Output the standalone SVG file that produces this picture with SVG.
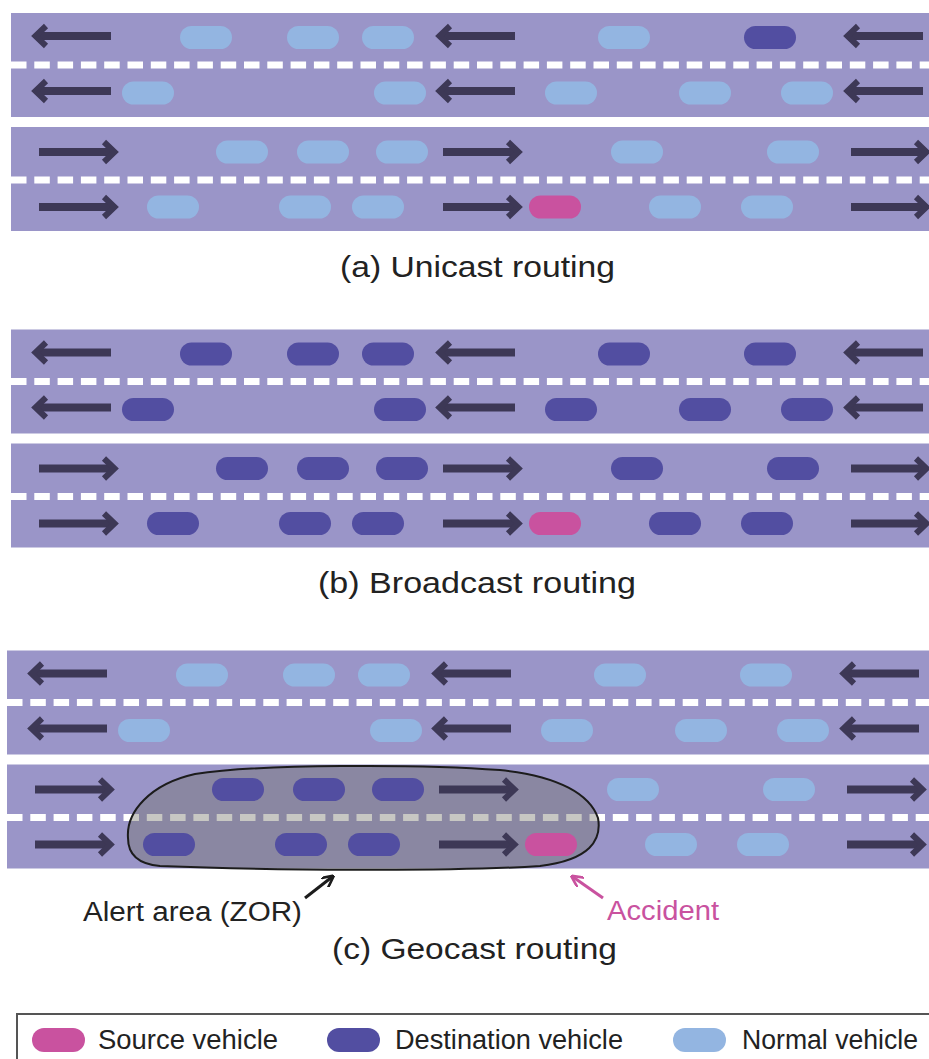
<svg xmlns="http://www.w3.org/2000/svg" xmlns:xlink="http://www.w3.org/1999/xlink" width="929" height="1059" viewBox="0 0 929 1059">
  <style>
    .road { fill: #9a95c8; }
    .dash { stroke: #ffffff; stroke-width: 7; stroke-dasharray: 15.5 7.8; fill: none; }
    .v-n { fill: #93b5e1; }
    .v-d { fill: #524ea1; }
    .v-s { fill: #c9529f; }
    .shaft { stroke: #3d3856; stroke-width: 8; fill: none; }
    .head { stroke: #3d3856; stroke-width: 6; fill: none; stroke-linejoin: miter; }
    .cap { font-family: "Liberation Sans", Arial, sans-serif; font-size: 29px; fill: #222222; }
    .lbl { font-family: "Liberation Sans", Arial, sans-serif; font-size: 27px; fill: #222222; }
    .zor { fill: rgb(115,115,105); fill-opacity: 0.4; stroke: #1c1c1c; stroke-width: 2; }
    .ptr { stroke-width: 3; fill: none; }
  </style>
  <defs>
    <!-- lane direction arrows, tip at origin -->
    <g id="al">
      <path class="shaft" d="M78,0 H5"/>
      <path class="head" d="M13,-10 L2.5,0 L13,10"/>
    </g>
    <g id="ar">
      <path class="shaft" d="M-78,0 H-5"/>
      <path class="head" d="M-13,-10 L-2.5,0 L-13,10"/>
    </g>
    <rect id="car" width="52" height="23" rx="11.5"/>
    <marker id="mk-k" viewBox="0 0 10 10" refX="8" refY="5" markerWidth="4" markerHeight="4" orient="auto">
      <path d="M0,0 L10,5 L0,10" fill="none" stroke="#1c1c1c" stroke-width="2.2"/>
    </marker>
    <marker id="mk-p" viewBox="0 0 10 10" refX="8" refY="5" markerWidth="4" markerHeight="4" orient="auto">
      <path d="M0,0 L10,5 L0,10" fill="none" stroke="#c9529f" stroke-width="2.2"/>
    </marker>
  </defs>

  <!-- (a) unicast -->
  <g id="panel-a">
    <rect class="road" x="11" y="13" width="930" height="104"/>
    <rect class="road" x="11" y="127" width="930" height="104"/>
    <line class="dash" x1="11" y1="65" x2="929" y2="65"/>
    <line class="dash" x1="11" y1="180" x2="929" y2="180"/>
    <g id="a-arrows">
      <use href="#al" x="33" y="36"/><use href="#al" x="437" y="36"/><use href="#al" x="845" y="36"/>
      <use href="#al" x="33" y="91"/><use href="#al" x="437" y="91"/><use href="#al" x="845" y="91"/>
      <use href="#ar" x="117" y="152"/><use href="#ar" x="521" y="152"/><use href="#ar" x="929" y="152"/>
      <use href="#ar" x="117" y="207"/><use href="#ar" x="521" y="207"/><use href="#ar" x="929" y="207"/>
    </g>
    <g id="a-vehicles">
      <use href="#car" class="v-n" x="180" y="26"/><use href="#car" class="v-n" x="287" y="26"/><use href="#car" class="v-n" x="362" y="26"/><use href="#car" class="v-n" x="598" y="26"/><use href="#car" class="v-d" x="744" y="26"/>
      <use href="#car" class="v-n" x="122" y="81.5"/><use href="#car" class="v-n" x="374" y="81.5"/><use href="#car" class="v-n" x="545" y="81.5"/><use href="#car" class="v-n" x="679" y="81.5"/><use href="#car" class="v-n" x="781" y="81.5"/>
      <use href="#car" class="v-n" x="216" y="140.5"/><use href="#car" class="v-n" x="297" y="140.5"/><use href="#car" class="v-n" x="376" y="140.5"/><use href="#car" class="v-n" x="611" y="140.5"/><use href="#car" class="v-n" x="767" y="140.5"/>
      <use href="#car" class="v-n" x="147" y="195.5"/><use href="#car" class="v-n" x="279" y="195.5"/><use href="#car" class="v-n" x="352" y="195.5"/><use href="#car" class="v-s" x="529" y="195.5"/><use href="#car" class="v-n" x="649" y="195.5"/><use href="#car" class="v-n" x="741" y="195.5"/>
    </g>
  </g>
  <text class="cap" x="340" y="277" textLength="275" lengthAdjust="spacingAndGlyphs">(a) Unicast routing</text>

  <!-- (b) broadcast -->
  <g id="panel-b" transform="translate(0,316.5)">
    <rect class="road" x="11" y="13" width="930" height="104"/>
    <rect class="road" x="11" y="127" width="930" height="104"/>
    <line class="dash" x1="11" y1="65" x2="929" y2="65"/>
    <line class="dash" x1="11" y1="180" x2="929" y2="180"/>
    <g id="b-arrows">
      <use href="#al" x="33" y="36"/><use href="#al" x="437" y="36"/><use href="#al" x="845" y="36"/>
      <use href="#al" x="33" y="91"/><use href="#al" x="437" y="91"/><use href="#al" x="845" y="91"/>
      <use href="#ar" x="117" y="152"/><use href="#ar" x="521" y="152"/><use href="#ar" x="929" y="152"/>
      <use href="#ar" x="117" y="207"/><use href="#ar" x="521" y="207"/><use href="#ar" x="929" y="207"/>
    </g>
    <g id="b-vehicles">
      <use href="#car" class="v-d" x="180" y="26"/><use href="#car" class="v-d" x="287" y="26"/><use href="#car" class="v-d" x="362" y="26"/><use href="#car" class="v-d" x="598" y="26"/><use href="#car" class="v-d" x="744" y="26"/>
      <use href="#car" class="v-d" x="122" y="81.5"/><use href="#car" class="v-d" x="374" y="81.5"/><use href="#car" class="v-d" x="545" y="81.5"/><use href="#car" class="v-d" x="679" y="81.5"/><use href="#car" class="v-d" x="781" y="81.5"/>
      <use href="#car" class="v-d" x="216" y="140.5"/><use href="#car" class="v-d" x="297" y="140.5"/><use href="#car" class="v-d" x="376" y="140.5"/><use href="#car" class="v-d" x="611" y="140.5"/><use href="#car" class="v-d" x="767" y="140.5"/>
      <use href="#car" class="v-d" x="147" y="195.5"/><use href="#car" class="v-d" x="279" y="195.5"/><use href="#car" class="v-d" x="352" y="195.5"/><use href="#car" class="v-s" x="529" y="195.5"/><use href="#car" class="v-d" x="649" y="195.5"/><use href="#car" class="v-d" x="741" y="195.5"/>
    </g>
  </g>
  <text class="cap" x="318" y="593" textLength="318" lengthAdjust="spacingAndGlyphs">(b) Broadcast routing</text>

  <!-- (c) geocast -->
  <g id="panel-c" transform="translate(-4,637.5)">
    <rect class="road" x="11" y="13" width="930" height="104"/>
    <rect class="road" x="11" y="127" width="930" height="104"/>
    <line class="dash" x1="11" y1="65" x2="933" y2="65"/>
    <line class="dash" x1="11" y1="180" x2="933" y2="180"/>
    <!-- zone of relevance -->
    <path id="zor" class="zor" d="M132,200.5 C130,174.5 154,146.5 199,136.5 C264,126.5 424,126.5 504,132.5 C564,138.5 594,157.5 602,180.5 C606,202.5 594,222.5 544,228.5 C454,234.5 264,232.5 164,228.5 C140,226.5 132,214.5 132,200.5 Z"/>
    <g id="c-arrows">
      <use href="#al" x="33" y="36"/><use href="#al" x="437" y="36"/><use href="#al" x="845" y="36"/>
      <use href="#al" x="33" y="91"/><use href="#al" x="437" y="91"/><use href="#al" x="845" y="91"/>
      <use href="#ar" x="117" y="152"/><use href="#ar" x="521" y="152"/><use href="#ar" x="929" y="152"/>
      <use href="#ar" x="117" y="207"/><use href="#ar" x="521" y="207"/><use href="#ar" x="929" y="207"/>
    </g>
    <g id="c-vehicles">
      <use href="#car" class="v-n" x="180" y="26"/><use href="#car" class="v-n" x="287" y="26"/><use href="#car" class="v-n" x="362" y="26"/><use href="#car" class="v-n" x="598" y="26"/><use href="#car" class="v-n" x="744" y="26"/>
      <use href="#car" class="v-n" x="122" y="81.5"/><use href="#car" class="v-n" x="374" y="81.5"/><use href="#car" class="v-n" x="545" y="81.5"/><use href="#car" class="v-n" x="679" y="81.5"/><use href="#car" class="v-n" x="781" y="81.5"/>
      <use href="#car" class="v-d" x="216" y="140.5"/><use href="#car" class="v-d" x="297" y="140.5"/><use href="#car" class="v-d" x="376" y="140.5"/><use href="#car" class="v-n" x="611" y="140.5"/><use href="#car" class="v-n" x="767" y="140.5"/>
      <use href="#car" class="v-d" x="147" y="195.5"/><use href="#car" class="v-d" x="279" y="195.5"/><use href="#car" class="v-d" x="352" y="195.5"/><use href="#car" class="v-s" x="529" y="195.5"/><use href="#car" class="v-n" x="649" y="195.5"/><use href="#car" class="v-n" x="741" y="195.5"/>
    </g>
  </g>

  <g id="connectors">
    <line class="ptr" x1="305" y1="898" x2="332" y2="877" stroke="#1c1c1c" marker-end="url(#mk-k)"/>
    <line class="ptr" x1="603" y1="898" x2="573" y2="877" stroke="#c9529f" marker-end="url(#mk-p)"/>
  </g>
  <text class="lbl" x="83" y="921" textLength="219" lengthAdjust="spacingAndGlyphs">Alert area (ZOR)</text>
  <text class="lbl" x="607" y="920" textLength="112" lengthAdjust="spacingAndGlyphs" fill="#c9529f" style="fill:#c9529f">Accident</text>
  <text class="cap" x="332" y="959" textLength="285" lengthAdjust="spacingAndGlyphs">(c) Geocast routing</text>

  <!-- legend -->
  <g id="legend">
    <rect x="17" y="1014" width="940" height="80" fill="#ffffff" stroke="#555555" stroke-width="2"/>
    <rect class="v-s" x="32" y="1028" width="53" height="24" rx="12"/>
    <text class="lbl" x="98" y="1049" textLength="180" lengthAdjust="spacingAndGlyphs">Source vehicle</text>
    <rect class="v-d" x="327" y="1028" width="53" height="24" rx="12"/>
    <text class="lbl" x="395" y="1049" textLength="228" lengthAdjust="spacingAndGlyphs">Destination vehicle</text>
    <rect class="v-n" x="673" y="1028" width="53" height="24" rx="12"/>
    <text class="lbl" x="742" y="1049" textLength="176" lengthAdjust="spacingAndGlyphs">Normal vehicle</text>
  </g>
</svg>
